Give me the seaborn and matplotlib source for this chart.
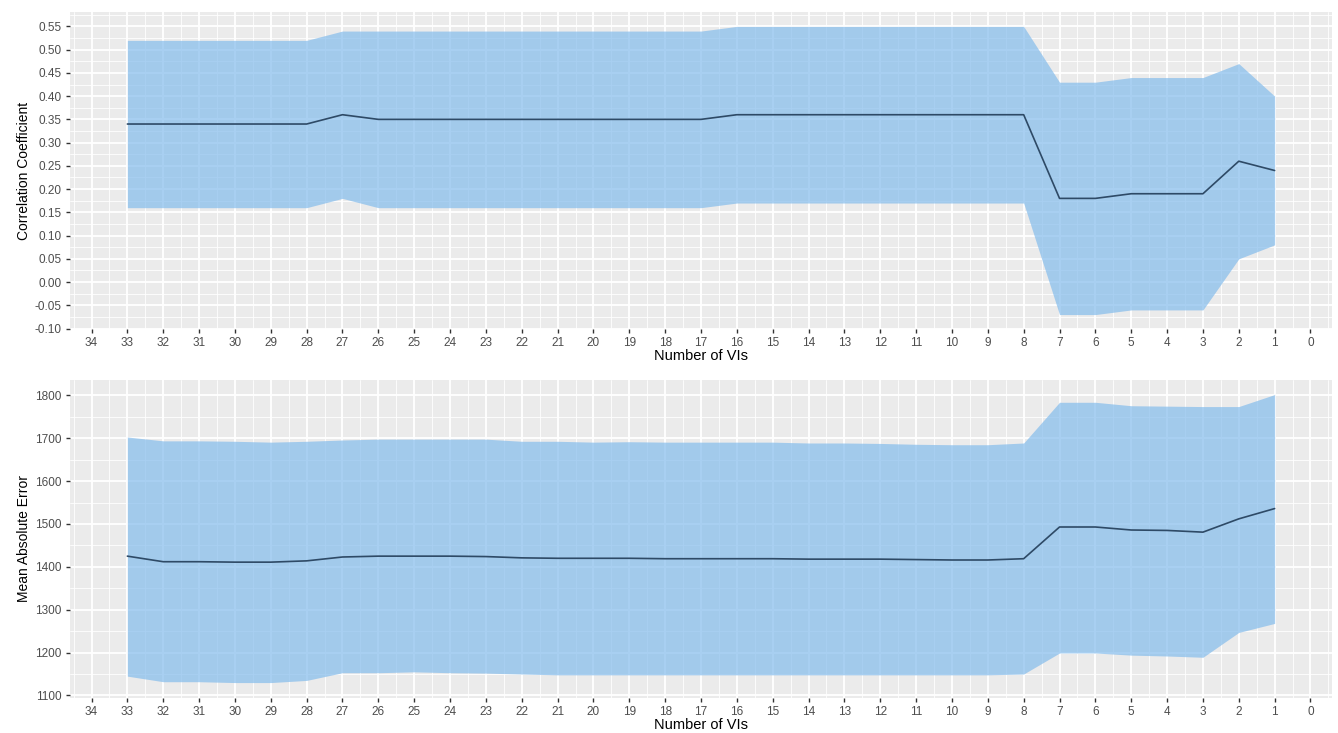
import matplotlib
matplotlib.use("Agg")
import matplotlib.pyplot as plt
from matplotlib.ticker import MultipleLocator, FixedLocator, FormatStrFormatter
import numpy as np
import pandas as pd
import seaborn as sns

# ---- data ----
n_vis = [33, 32, 31, 30, 29, 28, 27, 26, 25, 24, 23, 22, 21, 20, 19, 18, 17,
         16, 15, 14, 13, 12, 11, 10, 9, 8, 7, 6, 5, 4, 3, 2, 1]

cor_mean = [0.34, 0.34, 0.34, 0.34, 0.34, 0.34, 0.36, 0.35, 0.35, 0.35, 0.35, 0.35, 0.35, 0.35, 0.35, 0.35, 0.35,
            0.36, 0.36, 0.36, 0.36, 0.36, 0.36, 0.36, 0.36, 0.36, 0.18, 0.18, 0.19, 0.19, 0.19, 0.26, 0.24]
cor_upper = [0.52, 0.52, 0.52, 0.52, 0.52, 0.52, 0.54, 0.54, 0.54, 0.54, 0.54, 0.54, 0.54, 0.54, 0.54, 0.54, 0.54,
             0.55, 0.55, 0.55, 0.55, 0.55, 0.55, 0.55, 0.55, 0.55, 0.43, 0.43, 0.44, 0.44, 0.44, 0.47, 0.40]
cor_lower = [0.16, 0.16, 0.16, 0.16, 0.16, 0.16, 0.18, 0.16, 0.16, 0.16, 0.16, 0.16, 0.16, 0.16, 0.16, 0.16, 0.16,
             0.17, 0.17, 0.17, 0.17, 0.17, 0.17, 0.17, 0.17, 0.17, -0.07, -0.07, -0.06, -0.06, -0.06, 0.05, 0.08]

mae_mean = [1425, 1412, 1412, 1411, 1411, 1414, 1423, 1425, 1425, 1425, 1424, 1421, 1420, 1420, 1420, 1419, 1419,
            1419, 1419, 1418, 1418, 1418, 1417, 1416, 1416, 1419, 1493, 1493, 1486, 1485, 1481, 1512, 1536]
mae_upper = [1703, 1694, 1694, 1693, 1691, 1693, 1696, 1698, 1698, 1698, 1698, 1693, 1693, 1691, 1692, 1691, 1691,
             1691, 1691, 1689, 1689, 1688, 1686, 1685, 1685, 1689, 1784, 1784, 1776, 1775, 1774, 1774, 1802]
mae_lower = [1145, 1132, 1132, 1130, 1130, 1135, 1153, 1153, 1155, 1153, 1152, 1150, 1148, 1148, 1148, 1148, 1148,
             1148, 1148, 1148, 1148, 1148, 1148, 1148, 1148, 1150, 1199, 1199, 1194, 1192, 1189, 1247, 1268]

x_ticks = list(range(0, 35))
cor_ticks = [round(-0.10 + 0.05 * i, 2) for i in range(14)]
mae_ticks = [1100, 1200, 1300, 1400, 1500, 1600, 1700, 1800]

# ---- style ----
sns.set_theme(style="darkgrid", rc={
    "axes.facecolor": "#EBEBEB",
    "grid.color": "white",
    "axes.edgecolor": "#EBEBEB",
    "xtick.bottom": True, "ytick.left": True,
    "xtick.color": "#333333", "ytick.color": "#333333",
    "xtick.major.size": 3, "ytick.major.size": 3,
    "xtick.major.width": 1.0, "ytick.major.width": 1.0,
    "xtick.major.pad": 3, "ytick.major.pad": 3,
})
plt.rcParams["font.family"] = ["Liberation Sans", "DejaVu Sans"]

df = pd.DataFrame({"n": n_vis, "cor": cor_mean, "cor_lo": cor_lower, "cor_hi": cor_upper,
                   "mae": mae_mean, "mae_lo": mae_lower, "mae_hi": mae_upper})

fig = plt.figure(figsize=(13.38, 7.33), dpi=100)
ax1 = fig.add_axes([70 / 1338, 1 - 329 / 733, 1262 / 1338, 317 / 733])
ax2 = fig.add_axes([70 / 1338, 1 - 698 / 733, 1262 / 1338, 318 / 733])

fill_c = "#84BCEC"
line_c = "#2E4A66"

def style_axis(ax, yticks, ylim, minor_y, ylabel, fmt):
    ax.set_xlim(34.6, -0.6)
    ax.set_ylim(*ylim)
    ax.xaxis.set_major_locator(FixedLocator(x_ticks))
    ax.xaxis.set_minor_locator(MultipleLocator(0.5))
    ax.yaxis.set_major_locator(FixedLocator(yticks))
    ax.yaxis.set_minor_locator(MultipleLocator(minor_y))
    ax.yaxis.set_major_formatter(FormatStrFormatter(fmt))
    ax.xaxis.set_major_formatter(FormatStrFormatter("%d"))
    ax.grid(which="major", color="white", linewidth=1.3)
    ax.grid(which="minor", color="white", linewidth=0.6)
    ax.tick_params(which="minor", length=0)
    ax.tick_params(axis="both", which="major", labelsize=8.5, labelcolor="#4D4D4D")
    ax.set_xlabel("Number of VIs", fontsize=10.5, color="black", labelpad=0)
    ax.set_ylabel(ylabel, fontsize=10, color="black", labelpad=3)
    for s in ax.spines.values():
        s.set_visible(False)
    ax.set_axisbelow(True)

ax1.fill_between(df["n"], df["cor_lo"], df["cor_hi"], color=fill_c, alpha=0.7, linewidth=0, zorder=2)
sns.lineplot(data=df, x="n", y="cor", ax=ax1, color=line_c, linewidth=1.2, zorder=3, sort=False)
style_axis(ax1, cor_ticks, (-0.101, 0.581), 0.025, "Correlation Coefficient", "%.2f")

ax2.fill_between(df["n"], df["mae_lo"], df["mae_hi"], color=fill_c, alpha=0.7, linewidth=0, zorder=2)
sns.lineplot(data=df, x="n", y="mae", ax=ax2, color=line_c, linewidth=1.2, zorder=3, sort=False)
style_axis(ax2, mae_ticks, (1094, 1836), 50, "Mean Absolute Error", "%d")

fig.savefig("out.png", dpi=100)
